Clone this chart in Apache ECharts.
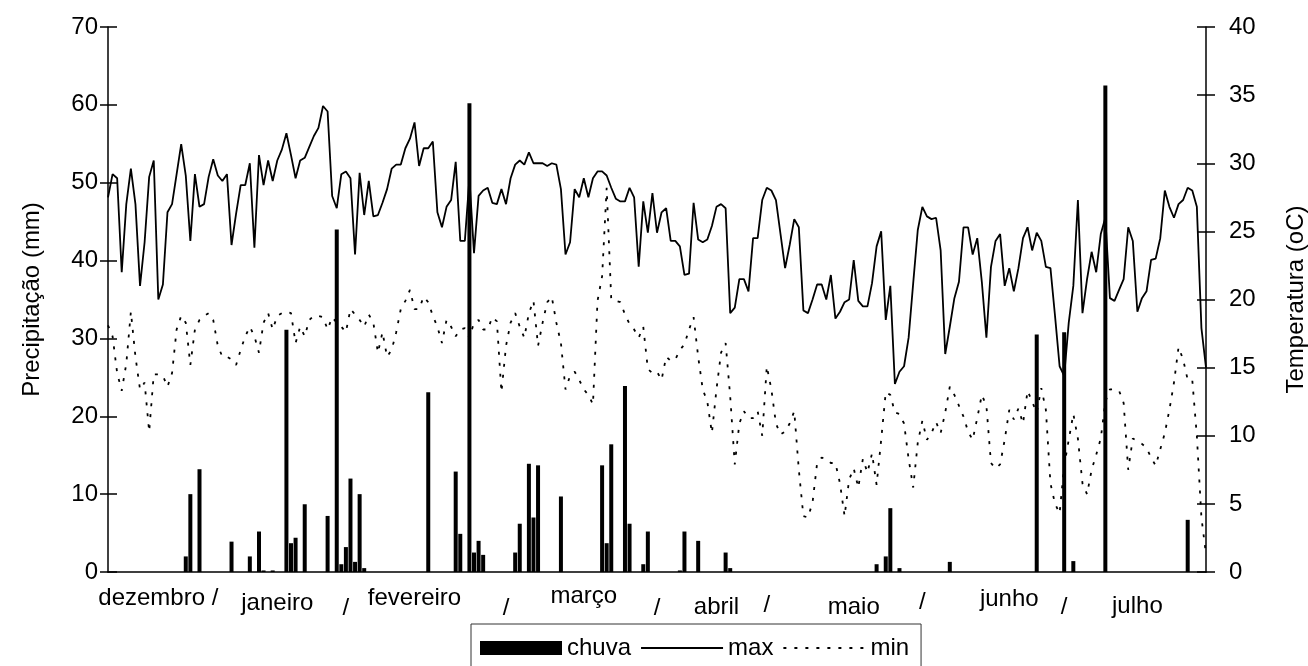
<!DOCTYPE html>
<html><head><meta charset="utf-8">
<script src="https://cdn.jsdelivr.net/npm/echarts@6/dist/echarts.min.js"></script>
<style>html,body{margin:0;padding:0;background:#fff}#c{width:1308px;height:666px}</style>
</head><body><div id="c"></div>
<script>
// daily maximum temperature (oC)
const tmax = [27.5,29.2,28.9,22.0,27.0,29.6,27.0,21.0,24.2,29.0,
30.2,20.0,21.1,26.4,27.0,29.2,31.4,29.1,24.3,29.2,
26.8,27.0,29.0,30.3,29.1,28.7,29.2,24.0,26.3,28.4,
28.4,30.0,23.8,30.6,28.4,30.2,28.7,30.2,31.0,32.2,
30.6,28.9,30.2,30.4,31.2,32.0,32.6,34.2,33.8,27.6,
26.7,29.2,29.4,28.9,23.3,29.3,26.2,28.7,26.1,26.2,
27.1,28.1,29.6,29.9,29.9,31.1,31.8,33.0,29.8,31.1,
31.1,31.6,26.4,25.3,26.8,27.3,30.1,24.3,24.3,28.9,
23.4,27.6,
28.0,28.2,27.1,27.0,28.1,27.0,28.9,29.9,30.2,29.9,
30.8,30.0,30.0,30.0,29.8,30.0,29.9,28.1,23.3,24.2,
28.1,27.5,28.9,27.5,28.9,29.4,29.4,29.1,28.2,27.4,
27.2,27.2,28.2,27.5,22.4,27.2,24.9,27.8,24.9,26.4,
26.7,
24.3,24.3,23.9,21.8,21.9,27.1,24.4,24.2,24.4,25.4,
26.8,27.0,26.7,19.0,19.4,21.5,21.5,20.6,24.5,24.5,
27.3,28.2,28.0,27.3,24.8,22.3,24.0,25.9,25.3,19.2,
19.0,20.0,21.1,21.1,20.0,21.8,18.6,19.1,19.8,20.0,
22.9,
19.9,19.5,19.5,21.2,23.9,25.0,18.5,21.0,13.8,14.7,
15.1,17.2,21.2,25.1,26.8,26.1,25.9,26.0,23.6,16.0,
18.0,20.1,21.3,25.3,25.3,23.3,24.5,21.3,17.2,22.4,
24.3,24.8,21.0,22.3,20.6,22.3,24.5,25.3,23.6,24.9,
24.3,22.4,22.3,18.8,15.1,14.4,18.3,21.0,27.3,19.0,
21.5,23.5,22.0,24.8,26.0,20.1,19.9,20.7,21.5,25.3,
24.3,19.1,20.1,20.6,22.9,23.0,24.5,28.0,26.8,26.0,
27.0,27.3,28.2,28.0,26.8,17.9,15.0];

// daily minimum temperature (oC)
const tmin = [18.1,17.3,14.6,13.3,15.3,19.1,15.8,13.4,13.9,10.3,
14.5,14.5,14.4,13.6,14.6,17.8,18.8,18.3,15.2,17.8,
18.5,18.8,19.0,18.5,16.6,15.8,15.8,15.6,15.2,16.3,
17.3,18.0,17.3,16.1,18.3,19.0,17.8,18.8,19.0,19.1,
19.0,16.8,18.0,17.3,18.5,18.8,18.8,18.7,17.8,18.7,
18.3,18.0,17.6,19.3,18.9,18.5,18.0,18.9,18.3,16.1,
17.6,15.8,16.3,17.6,19.3,19.9,20.7,19.3,19.3,20.2,
19.8,18.8,18.0,16.8,18.5,18.0,17.3,17.8,17.9,17.2,
18.3,18.5,
17.8,17.8,18.7,18.4,13.2,16.6,18.3,19.0,18.0,17.2,
19.0,19.9,16.6,18.3,19.8,20.2,18.3,16.8,13.4,14.4,
14.7,14.1,13.4,13.0,12.3,19.9,21.7,28.2,20.0,19.9,
19.8,18.9,18.2,17.8,17.2,18.0,14.9,14.6,14.7,14.1,
15.8,
15.5,15.6,16.3,16.7,17.8,18.7,15.8,13.4,12.5,10.2,
13.4,16.1,16.8,12.9,7.9,10.9,11.8,11.3,11.3,11.8,
10.0,15.1,13.4,10.9,10.1,10.3,10.9,11.8,7.5,4.1,
4.0,5.1,8.0,8.4,8.3,8.0,8.0,6.5,4.1,6.8,
7.6,
6.2,8.3,7.3,8.7,6.4,9.7,13.2,13.0,11.7,11.6,
10.9,8.3,6.2,9.5,11.1,9.7,10.2,11.0,10.2,11.7,
13.6,13.0,12.2,11.4,10.3,9.7,11.3,13.0,12.2,8.0,
7.6,7.9,9.7,11.9,11.2,12.0,10.9,13.3,12.5,11.7,
13.5,11.9,6.5,5.0,4.3,7.8,9.7,11.6,9.8,6.5,
5.7,7.5,8.6,9.8,12.5,13.4,13.4,13.3,12.4,7.5,
9.8,9.6,9.4,9.1,8.4,7.8,9.0,10.2,11.9,13.9,
16.5,15.6,14.1,14.1,10.0,4.0,1.3];

// rain (mm): day index and amount
const rainDay = [17,18,20,27,31,33,34,36,39,40,41,43,48,50,51,52,53,54,55,56,
70,76,77,79,80,81,82,89,90,92,93,94,99,108,109,110,113,114,117,118,
125,126,129,135,136,168,170,171,173,184,203,209,211,218,236];
const rainMm = [2.0,10.0,13.2,3.9,2.0,5.2,0.2,0.2,31.1,3.7,4.4,8.7,7.2,44.0,1.0,3.2,12.0,1.3,10.0,0.5,
23.1,12.9,4.9,60.2,2.5,4.0,2.2,2.5,6.2,13.9,7.0,13.7,9.7,13.7,3.7,16.4,23.9,6.2,1.0,5.2,
0.2,5.2,4.0,2.5,0.5,1.0,2.0,8.2,0.5,1.3,30.5,30.8,1.4,62.5,6.7];

// x-axis labels (day index where each text sits)
const monthLabelDay = [11, 37, 52, 67, 87, 104, 120, 133, 144, 163, 178, 197, 209, 225];
const monthLabelText = ['dezembro /', 'janeiro', '/', 'fevereiro', '/', 'março', '/', 'abril', '/', 'maio', '/', 'junho', '/', 'julho'];

// ---- build ----
const N = tmax.length;
const days = Array.from({length: N}, (_, i) => String(i + 1));
const rain = new Array(N).fill(null);
rainDay.forEach((d, k) => { rain[d] = rainMm[k]; });

const FONT = 'Liberation Sans, Arial, sans-serif';
const black = '#000';

// vertical drop (px) of each x label, style only
const labelDrop = [2, 7, 12, 2, 12, 0, 12, 11, 9, 11, 6, 3, 11, 10];
const rich = {};
labelDrop.forEach((p, k) => {
  rich['l' + k] = {fontSize: 24, color: black, fontFamily: FONT, padding: [p, 0, 0, 0]};
});

const chart = echarts.init(document.getElementById('c'), null, {renderer: 'canvas'});
chart.setOption({
  animation: false,
  backgroundColor: '#fff',
  textStyle: {fontFamily: FONT, color: black},
  grid: {left: 108, right: 102, top: 27, bottom: 94, containLabel: false, outerBoundsMode: 'none'},
  legend: {
    left: 471, top: 624,
    itemWidth: 82, itemHeight: 14, itemGap: 9,
    padding: [12, 12, 40, 9],
    borderColor: '#333', borderWidth: 1,
    selectedMode: false,
    textStyle: {fontSize: 24, color: black, fontFamily: FONT, lineHeight: 24},
    data: [
      {name: 'chuva', icon: 'rect'},
      {name: 'max', itemStyle: {opacity: 0}},
      {name: 'min', itemStyle: {opacity: 0}}
    ]
  },
  xAxis: {
    type: 'category', data: days, boundaryGap: false,
    axisLine: {lineStyle: {color: black, width: 1.5}},
    axisTick: {show: false},
    splitLine: {show: false},
    axisLabel: {
      interval: (i) => monthLabelDay.indexOf(i) >= 0,
      margin: 12,
      fontSize: 24, color: black, fontFamily: FONT,
      formatter: (v, i) => {
        const k = monthLabelDay.indexOf(i);
        return k >= 0 ? '{l' + k + '|' + monthLabelText[k] + '}' : '';
      },
      rich: rich
    }
  },
  yAxis: [
    {
      type: 'value', min: 0, max: 70, interval: 10, position: 'left',
      name: 'Precipitação (mm)', nameLocation: 'middle', nameGap: 64, nameRotate: 90,
      nameTextStyle: {fontSize: 24, color: black, fontFamily: FONT},
      axisLine: {show: true, lineStyle: {color: black, width: 1.5}},
      axisTick: {show: true, length: 8, lineStyle: {color: black, width: 1.5}},
      axisLabel: {fontSize: 24, color: black, fontFamily: FONT, margin: 10},
      splitLine: {show: false}
    },
    {
      type: 'value', min: 0, max: 40, interval: 5, position: 'right',
      name: 'Temperatura (oC)', nameLocation: 'middle', nameGap: 78, nameRotate: 90,
      nameTextStyle: {fontSize: 24, color: black, fontFamily: FONT},
      axisLine: {show: true, lineStyle: {color: black, width: 1.5}},
      axisTick: {show: true, length: 9, lineStyle: {color: black, width: 1.5}},
      axisLabel: {fontSize: 24, color: black, fontFamily: FONT, margin: 23},
      splitLine: {show: false}
    },
    {
      type: 'value', min: 0, max: 70, interval: 10, position: 'left',
      axisLine: {show: false},
      axisTick: {show: true, inside: true, length: 9, lineStyle: {color: black, width: 1.5}},
      axisLabel: {show: false}, splitLine: {show: false}
    },
    {
      type: 'value', min: 0, max: 40, interval: 5, position: 'right',
      axisLine: {show: false},
      axisTick: {show: true, inside: true, length: 9, lineStyle: {color: black, width: 1.5}},
      axisLabel: {show: false}, splitLine: {show: false}
    }
  ],
  series: [
    {name: 'chuva', type: 'bar', yAxisIndex: 0, data: rain, barWidth: 4,
     itemStyle: {color: black}},
    {name: 'max', type: 'line', yAxisIndex: 1, data: tmax, symbol: 'none',
     lineStyle: {color: black, width: 1.8}, itemStyle: {color: black}},
    {name: 'min', type: 'line', yAxisIndex: 1, data: tmin, symbol: 'none',
     lineStyle: {color: black, width: 1.8, type: [3, 8]}, itemStyle: {color: black}}
  ]
});
</script>
</body></html>
